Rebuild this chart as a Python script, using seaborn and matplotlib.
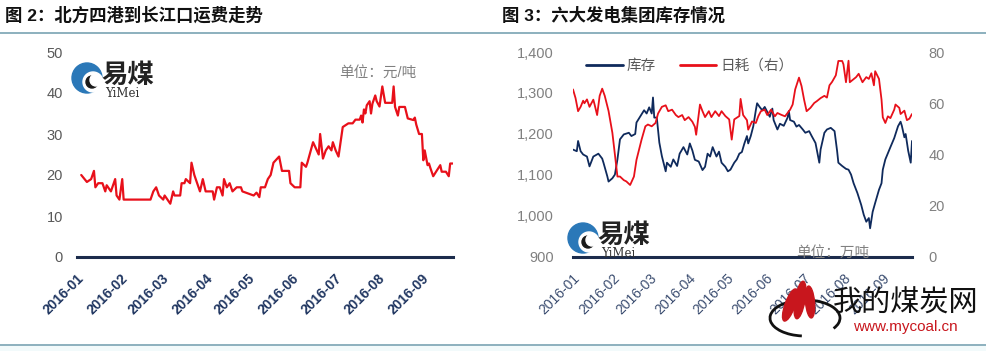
"""Fletes norte-Changjiang y stock de las seis grandes generadoras (2016)."""
import matplotlib
matplotlib.use("Agg")
import matplotlib.dates as mdates
import matplotlib.pyplot as plt
import matplotlib.ticker as mticker
import pandas as pd
import seaborn as sns
from matplotlib.lines import Line2D
from matplotlib.patches import Arc, Circle, Ellipse

INICIO = pd.Timestamp("2016-01-01")

# 图 2: dias desde 2016-01-01 y flete (元/吨)
flete_dias = [
    3, 7, 10, 12, 13, 15, 18, 20, 21, 24,
    27, 28, 30, 32, 33, 52, 53, 54, 56, 58,
    61, 62, 64, 66, 68, 69, 73, 74, 76, 77,
    80, 81, 83, 86, 87, 89, 91, 96, 97, 99,
    101, 103, 104, 106, 108, 110, 113, 116, 117, 121,
    125, 127, 129, 130, 133, 135, 137, 139, 143, 145,
    150, 151, 154, 158, 159, 162, 163, 167, 171, 172,
    174, 176, 178, 180, 181, 183, 185, 188, 192, 195,
    197, 200, 201, 202, 203, 204, 205, 207, 208, 209,
    211, 212, 214, 216, 218, 223, 224, 225, 227, 228,
    232, 234, 238, 239, 240, 242, 244, 245, 246, 248,
    249, 250, 252, 254, 257, 258, 261, 263, 264, 266,
]
flete_valores = [
    20, 18.3, 19, 21, 17, 18, 18, 16, 17.5, 16,
    19, 15, 14, 19, 14, 14, 15, 16, 17, 15,
    14, 15, 14, 13, 16, 15, 15, 18, 18, 19,
    18, 23, 20, 17, 16, 19, 16, 16, 14, 17,
    17, 15, 19, 17, 18, 16, 17, 17, 16, 15.5,
    15, 15.7, 14.6, 17, 17, 19, 20, 23, 24.5, 21,
    21, 18, 17, 17, 23, 22, 23, 28, 25, 30,
    24, 26, 27, 26, 28, 26, 24.5, 31.7, 32.6, 32.6,
    33.5, 33.5, 34.5, 32.8, 36, 35, 37, 38, 35, 37.4,
    39.4, 38, 36.7, 41.6, 37.6, 37.6, 41.6, 36.6, 34.5, 36.6,
    36.6, 33.8, 33.4, 34, 32.3, 30, 30, 23.6, 26, 22.4,
    22.8, 21.7, 19.7, 20.8, 22.4, 20.8, 20.8, 19.7, 22.8, 22.8,
]

# 图 3: stock (万吨, eje izq.)
stock_dias = [
    0, 3, 4, 6, 8, 11, 13, 16, 20, 23,
    24, 27, 28, 31, 33, 35, 37, 40, 44, 46,
    49, 50, 53, 56, 58, 60, 62, 63, 64, 66,
    68, 70, 73, 74, 77, 79, 82, 84, 87, 90,
    92, 94, 96, 99, 102, 104, 106, 108, 110, 113,
    115, 117, 120, 122, 124, 127, 129, 131, 133, 135,
    137, 138, 140, 142, 144, 145, 147, 149, 151, 153,
    155, 157, 158, 161, 163, 166, 169, 170, 171, 174,
    176, 178, 181, 183, 186, 188, 191, 194, 195, 198,
    200, 203, 206, 208, 209, 212, 215, 217, 219, 221,
    224, 227, 229, 231, 233, 234, 236, 238, 241, 243,
    244, 246, 250, 253, 256, 258, 259, 261, 262, 264,
    266, 267,
]
stock_valores = [
    1162, 1158, 1183, 1158, 1150, 1145, 1121, 1145, 1152, 1140,
    1130, 1097, 1084, 1092, 1101, 1138, 1187, 1199, 1203, 1195,
    1200, 1228, 1243, 1258, 1250, 1265, 1250, 1289, 1240, 1240,
    1179, 1146, 1109, 1130, 1120, 1138, 1122, 1152, 1168, 1150,
    1177, 1160, 1137, 1133, 1112, 1120, 1152, 1145, 1168, 1145,
    1157, 1130, 1120, 1109, 1113, 1130, 1138, 1152, 1156, 1177,
    1195, 1177, 1195, 1219, 1258, 1275, 1266, 1258, 1266, 1254,
    1242, 1262, 1234, 1211, 1225, 1220, 1240, 1256, 1234, 1230,
    1218, 1222, 1211, 1203, 1207, 1195, 1178, 1130, 1162, 1203,
    1211, 1215, 1207, 1159, 1130, 1122, 1115, 1113, 1101, 1080,
    1056, 1027, 1003, 986, 995, 970, 1010, 1032, 1064, 1080,
    1113, 1138, 1168, 1190, 1219, 1230, 1220, 1192, 1200, 1159,
    1130, 1183,
]

# 图 3: consumo diario (万吨, eje der.)
consumo_dias = [
    0, 2, 4, 6, 8, 9, 11, 13, 16, 17,
    19, 21, 23, 25, 28, 31, 33, 35, 37, 40,
    42, 45, 48, 50, 54, 57, 59, 62, 65, 67,
    70, 73, 75, 78, 81, 83, 86, 88, 91, 94,
    96, 97, 100, 102, 104, 107, 109, 112, 115, 117,
    120, 123, 124, 125, 127, 131, 132, 134, 137, 138,
    141, 144, 146, 148, 151, 153, 156, 159, 161, 164,
    167, 169, 171, 173, 175, 178, 180, 182, 184, 187,
    190, 192, 195, 198, 200, 202, 204, 207, 209, 212,
    213, 215, 217, 218, 220, 223, 225, 228, 231, 233,
    235, 237, 238, 241, 243, 244, 246, 248, 250, 253,
    254, 257, 258, 261, 263, 265, 267,
]
consumo_valores = [
    65.4, 62, 56.9, 58.6, 61, 60, 61.5, 58.6, 61.4, 59.5,
    55.4, 62.9, 65.7, 62.9, 57, 48.5, 40, 31.4, 31.4, 30,
    29.5, 28.1, 31.4, 37.9, 45.8, 51, 51.7, 51, 52.3, 56,
    58.6, 59.2, 56.9, 57.5, 55.4, 54.6, 55.4, 53.4, 54.6, 52.8,
    50.8, 47.7, 59.5, 56.9, 54.6, 56.9, 54.6, 56.9, 55, 56.9,
    55, 53.7, 49.7, 45.8, 53.7, 55, 61.7, 55.4, 53.4, 49.7,
    52.9, 52.3, 55, 56.9, 57.5, 55.4, 57.5, 54.9, 56.2, 55.5,
    54.9, 56.2, 57.5, 59.5, 65.4, 70, 66.7, 61.4, 56.9, 58.2,
    60.1, 60.8, 62, 62.9, 62.2, 67, 68.3, 70.9, 76.5, 76.5,
    75.2, 68.2, 76.6, 68.2, 69, 70.2, 71.5, 68.2, 70.2, 69.5,
    71.7, 67, 72.5, 69.5, 61.4, 54.5, 52.3, 54.9, 54.2, 57.5,
    59.5, 58.2, 55.8, 57.1, 53.4, 54, 55.8,
]

ROJO = "#e8101a"
AZUL = "#0f2a5c"
EJE = "#1c2c4c"
GRIS = "#808080"
LINEA_MARCO = "#79a3b3"


def a_fecha(dias):
    return INICIO + pd.to_timedelta(dias, unit="D")


def formato_eje_x(ax, fin, peso, color):
    ax.set_xlim(INICIO, a_fecha(fin))
    ax.xaxis.set_major_locator(mdates.MonthLocator())
    ax.xaxis.set_major_formatter(mdates.DateFormatter("%Y-%m"))
    ax.tick_params(axis="x", length=4, width=2, color=EJE, pad=6,
                   labelsize=10, labelcolor=color)
    for etiqueta in ax.get_xticklabels():
        etiqueta.set_rotation(45)
        etiqueta.set_ha("right")
        etiqueta.set_rotation_mode("anchor")
        etiqueta.set_fontweight(peso)
    ax.spines["bottom"].set_color(EJE)
    ax.spines["bottom"].set_linewidth(2.2)
    ax.set_xlabel("")
    ax.set_ylabel("")


def logo_yimei(deco, x, y):
    deco.add_patch(Circle((x, y), 15, color="#2b78b8"))
    deco.add_patch(Circle((x + 6, y + 4), 10, color="white"))
    deco.add_patch(Circle((x + 5, y + 4), 6, color="#1a1a1a"))
    deco.add_patch(Circle((x + 9, y + 2), 6, color="white"))
    deco.text(x + 14, y + 5, "易煤", fontsize=19, fontweight="bold",
              color="#222222", va="baseline", ha="left")
    deco.text(x + 18, y + 9, "YiMei", fontsize=8.5, family="DejaVu Serif",
              color="#333333", va="top", ha="left")


def main():
    sns.set_theme(style="white")
    plt.rcParams["font.family"] = ["Liberation Sans", "Noto Sans CJK SC"]

    fig = plt.figure(figsize=(9.87, 3.51), dpi=100)

    # --- 图 2 ---
    ax1 = fig.add_axes([77 / 987, 1 - 257 / 351, 376 / 987, 205 / 351])
    sns.lineplot(x=a_fecha(flete_dias), y=flete_valores, ax=ax1,
                 color=ROJO, linewidth=1.6)
    ax1.set_ylim(0, 50)
    ax1.set_yticks([0, 10, 20, 30, 40, 50])
    ax1.tick_params(axis="y", length=0, pad=10, labelsize=10.5,
                    labelcolor="#595959")
    formato_eje_x(ax1, 266, "bold", "#1f3560")
    sns.despine(ax=ax1, left=True)

    # --- 图 3 ---
    ax2 = fig.add_axes([573 / 987, 1 - 257 / 351, 339 / 987, 205 / 351])
    sns.lineplot(x=a_fecha(stock_dias), y=stock_valores, ax=ax2,
                 color=AZUL, linewidth=1.3)
    ax2.set_ylim(900, 1400)
    ax2.set_yticks(range(900, 1401, 100))
    ax2.yaxis.set_major_formatter(mticker.StrMethodFormatter("{x:,.0f}"))
    ax2.tick_params(axis="y", length=0, pad=14, labelsize=10.5,
                    labelcolor=GRIS)
    formato_eje_x(ax2, 267, "normal", "#3b4d70")
    sns.despine(ax=ax2, left=True)

    ax3 = ax2.twinx()
    sns.lineplot(x=a_fecha(consumo_dias), y=consumo_valores, ax=ax3,
                 color=ROJO, linewidth=1.3)
    ax3.set_ylim(0, 80)
    ax3.set_yticks([0, 20, 40, 60, 80])
    ax3.tick_params(axis="y", length=0, pad=12, labelsize=10.5,
                    labelcolor=GRIS)
    ax3.set_ylabel("")
    sns.despine(ax=ax3, left=True, right=True, bottom=True)

    manijas = [Line2D([], [], color=AZUL, linewidth=2),
               Line2D([], [], color=ROJO, linewidth=2)]
    ax3.legend(manijas, ["库存", "日耗（右）"], loc="upper left",
               bbox_to_anchor=(0.0, 1.03), ncol=2, frameon=False,
               handlelength=2.5, columnspacing=1.6, handletextpad=0.3,
               fontsize=10.5, labelcolor="#595959")

    # --- marco, titulos y marcas de agua ---
    deco = fig.add_axes([0, 0, 1, 1], zorder=-1)
    deco.set_xlim(0, 987)
    deco.set_ylim(351, 0)
    deco.axis("off")
    deco.axhline(32.5, color=LINEA_MARCO, linewidth=1.2)
    deco.axhline(345, color=LINEA_MARCO, linewidth=1.2)
    deco.axhspan(345.5, 351, color="#f2fafb", linewidth=0)

    sobre = fig.add_axes([0, 0, 1, 1], zorder=5)
    sobre.set_xlim(0, 987)
    sobre.set_ylim(351, 0)
    sobre.axis("off")
    sobre.patch.set_alpha(0)

    sobre.text(5, 15, "图 2：北方四港到长江口运费走势", fontsize=12.5,
               fontweight="bold", va="center", ha="left", color="#111111")
    sobre.text(502, 15, "图 3：六大发电集团库存情况", fontsize=12.5,
               fontweight="bold", va="center", ha="left", color="#111111")
    sobre.text(378, 73, "单位：元/吨", fontsize=10.5, color=GRIS,
               va="center", ha="center")
    sobre.text(833, 253, "单位：万吨", fontsize=10.5, color=GRIS,
               va="center", ha="center")

    logo_yimei(sobre, 87, 78)
    logo_yimei(sobre, 583, 238)

    sobre.add_patch(Arc((805, 318), 70, 36, theta1=100, theta2=380,
                        color="#111111", linewidth=2))
    for cx, cy, w, h, ang in [(790, 305, 10, 34, 20), (800, 300, 10, 38, 10),
                              (810, 302, 9, 32, -5)]:
        sobre.add_patch(Ellipse((cx, cy), w, h, angle=ang, color="#c8161d"))
    sobre.text(833, 304, "我的煤炭网", fontsize=21, color="#111111",
               va="center", ha="left")
    sobre.text(905, 327, "www.mycoal.cn", fontsize=11, color="#c8161d",
               va="center", ha="center")

    fig.savefig("out.png", dpi=100)
    plt.close(fig)


if __name__ == "__main__":
    main()
